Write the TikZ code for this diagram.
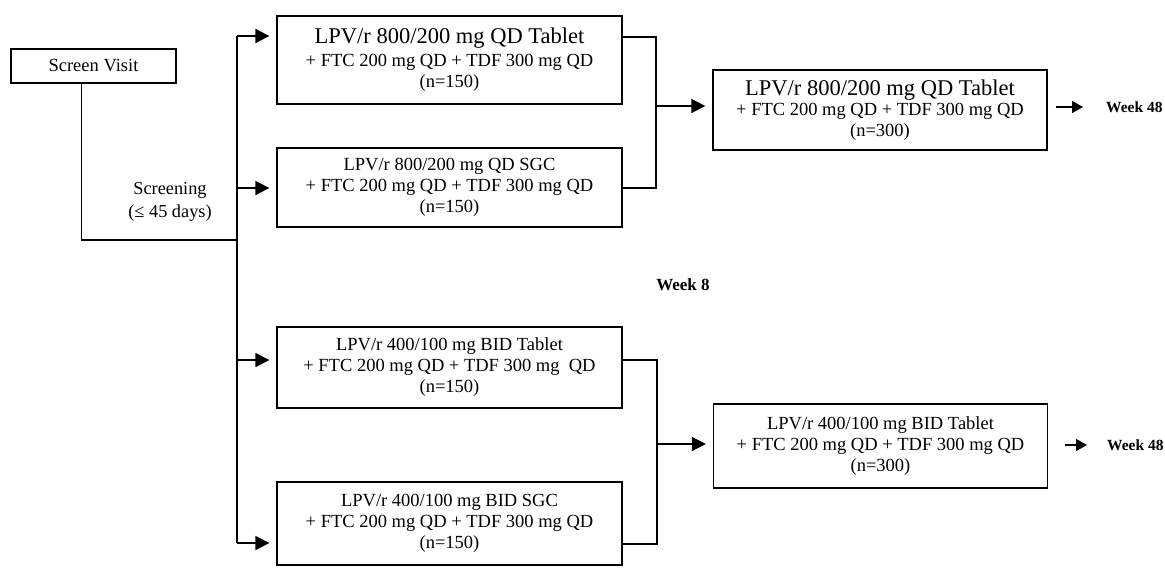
\documentclass[tikz,border=0pt]{standalone}
\usepackage{fontspec}
\setmainfont{Liberation Serif}
\usetikzlibrary{arrows.meta}

\tikzset{
  armbox/.style={draw, line width=1.3pt, inner sep=0pt, align=center,
    font=\fontsize{18.5}{21}\selectfont},
  link/.style={line width=1.7pt},
  feed/.style={line width=1.7pt, -{Triangle[length=14pt,width=14pt]}},
  tailarrow/.style={line width=1.7pt, -{Triangle[length=11pt,width=12pt]}},
  tag/.style={inner sep=0pt, font=\fontsize{15.5}{18}\selectfont\bfseries},
}
\newcommand{\bigline}[1]{{\fontsize{22.5}{25}\selectfont #1}}

\begin{document}
\begin{tikzpicture}[x=1pt, y=-1pt]
\useasboundingbox (0,0) rectangle (1165,568);

% start of the study
\node[armbox, minimum width=165pt, minimum height=34pt] (sv) at (93.5,66) {Screen Visit};

% randomised arms
\node[armbox, minimum width=345pt, minimum height=88pt] (b1) at (449.5,60)
  {\bigline{LPV/r 800/200 mg QD Tablet}\\[2pt] + FTC 200 mg QD + TDF 300 mg QD\\ (n=150)};
\node[armbox, minimum width=345pt, minimum height=79pt] (b2) at (449.5,187.5)
  {LPV/r 800/200 mg QD SGC\\ + FTC 200 mg QD + TDF 300 mg QD\\ (n=150)};
\node[armbox, minimum width=345pt, minimum height=81pt] (b3) at (449.5,367.5)
  {LPV/r 400/100 mg BID Tablet\\ + FTC 200 mg QD + TDF 300 mg\ \ QD\\ (n=150)};
\node[armbox, minimum width=345pt, minimum height=83pt] (b4) at (449.5,523.5)
  {LPV/r 400/100 mg BID SGC\\ + FTC 200 mg QD + TDF 300 mg QD\\ (n=150)};

% combined arms after week 8
\node[armbox, minimum width=334pt, minimum height=80pt] (c1) at (880,110)
  {\bigline{LPV/r 800/200 mg QD Tablet}\\[-1pt] + FTC 200 mg QD + TDF 300 mg QD\\ (n=300)};
\node[armbox, minimum width=334pt, minimum height=84pt] (c2) at (880.5,446)
  {LPV/r 400/100 mg BID Tablet\\ + FTC 200 mg QD + TDF 300 mg QD\\ (n=300)};

% labels
\node[align=center, inner sep=0pt, font=\fontsize{18.3}{23}\selectfont] (scr) at (170,201.5)
  {Screening\\ (≤ 45 days)};
\node[tag, font=\fontsize{17}{20}\selectfont\bfseries] (w8) at (683,285) {Week 8};
\node[tag, anchor=west] (w48a) at (1106,107) {Week 48};
\node[tag, anchor=west] (w48b) at (1107,445) {Week 48};

% screening line and trunk
\coordinate (drop) at ([xshift=71pt]sv.south west);
\coordinate (t1) at (237,36);
\coordinate (t2) at (237,188);
\coordinate (t3) at (237,360);
\coordinate (t4) at (237,543);
\draw[link] (drop) |- (237,240);
\draw[link] (t1) -- (t4);
\draw[feed] (t1) -- ([xshift=-7pt]b1.west |- t1);
\draw[feed] (t2) -- ([xshift=-7pt]b2.west |- t2);
\draw[feed] (t3) -- ([xshift=-7pt]b3.west |- t3);
\draw[feed] (t4) -- ([xshift=-7pt]b4.west |- t4);

% merge of the upper pair
\coordinate (m1) at (656,37);
\coordinate (m2) at (656,188);
\coordinate (m3) at (656,106);
\draw[link] (b1.east |- m1) -- (m1) -- (m2) -- (b2.east |- m2);
\draw[feed] (m3) -- ([xshift=-7pt]c1.west |- m3);

% merge of the lower pair
\coordinate (n1) at (657,360);
\coordinate (n2) at (657,544);
\coordinate (n3) at (657,444);
\draw[link] (b3.east |- n1) -- (n1) -- (n2) -- (b4.east |- n2);
\draw[feed] (n3) -- ([xshift=-7pt]c2.west |- n3);

% to week 48
\draw[tailarrow] ([xshift=8pt]c1.east |- w48a.west) -- ([xshift=-23pt]w48a.west);
\draw[tailarrow] ([xshift=17pt]c2.east |- w48b.west) -- ([xshift=-20pt]w48b.west);
\end{tikzpicture}
\end{document}
